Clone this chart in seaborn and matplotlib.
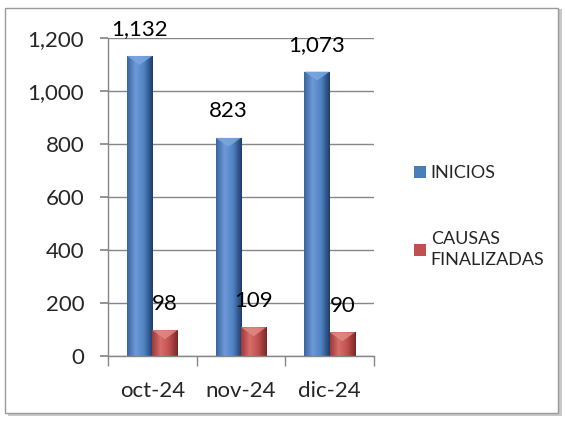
import numpy as np
import pandas as pd
import matplotlib
matplotlib.use("Agg")
import matplotlib.pyplot as plt
import seaborn as sns
from matplotlib.patches import Rectangle, Polygon
from matplotlib.colors import LinearSegmentedColormap

months = ["oct-24", "nov-24", "dic-24"]
inicios = [1132, 823, 1073]
finalizadas = [98, 109, 90]
series_names = ["INICIOS", "CAUSAS\nFINALIZADAS"]
yticks = [0, 200, 400, 600, 800, 1000, 1200]

df = pd.DataFrame({
    "mes": months * 2,
    "valor": inicios + finalizadas,
    "serie": [series_names[0]] * 3 + [series_names[1]] * 3,
})

sns.set_theme(style="white")
plt.rcParams["font.family"] = ["Lato", "DejaVu Sans"]

fig = plt.figure(figsize=(5.65, 4.21), dpi=100)
# outer frame with shadow
fig.patches.append(Rectangle((0.014, 0.012), 0.98, 0.966, transform=fig.transFigure,
                             facecolor="#c8c8c8", edgecolor="none", zorder=-3))
fig.patches.append(Rectangle((0.009, 0.02), 0.978, 0.96, transform=fig.transFigure,
                             facecolor="white", edgecolor="#9a9a9a", linewidth=1.0, zorder=-2))

ax = fig.add_axes([0.191, 0.154, 0.471, 0.756])
blue = "#4a7ebb"
red = "#c0504d"
sns.barplot(data=df, x="mes", y="valor", hue="serie", palette=[blue, red],
            width=0.57, gap=0, ax=ax, legend=True, saturation=1, edgecolor="none")

ax.set_ylim(0, 1200)
ax.set_xlim(-0.5, 2.5)
ax.set_yticks(yticks)
ax.set_yticklabels([f"{v:,}" for v in yticks], fontsize=16)
ax.yaxis.grid(True, color="#868686", linewidth=1.0)
ax.set_axisbelow(True)
ax.set_xlabel("")
ax.set_ylabel("")
ax.set_xticks([0, 1, 2])
ax.set_xticklabels(months, fontsize=16)
ax.tick_params(axis="x", length=0, pad=18)
ax.set_xticks([-0.5, 0.5, 1.5, 2.5], minor=True)
ax.tick_params(axis="x", which="minor", length=7, color="#868686", direction="out", bottom=True)
ax.tick_params(axis="y", length=6, color="#868686", direction="out", left=True, pad=11)
for s in ["top", "right"]:
    ax.spines[s].set_visible(False)
for s in ["left", "bottom"]:
    ax.spines[s].set_color("#868686")
    ax.spines[s].set_linewidth(1.0)

# gradient shading on bars
cmaps = {
    blue: LinearSegmentedColormap.from_list("b", ["#3a64a0", "#6d9ad6", "#4f82c2", "#1f3c6a"]),
    red: LinearSegmentedColormap.from_list("r", ["#9e3a38", "#d66e6b", "#c0504d", "#7a2927"]),
}
tops = {blue: "#7aa6e0", red: "#e08a87"}
grad = np.linspace(0, 1, 64).reshape(1, -1)
bars = [p for p in ax.patches if p.get_height() > 0]
px_per_unit = (fig.get_figheight() * fig.dpi * 0.756) / 1200.0
for p in bars:
    fc = matplotlib.colors.to_hex(p.get_facecolor())
    key = blue if fc == blue else red
    x0, y0, w, h = p.get_x(), p.get_y(), p.get_width(), p.get_height()
    im = ax.imshow(grad, cmap=cmaps[key], aspect="auto", extent=[x0, x0 + w, y0, y0 + h],
                   zorder=p.get_zorder() + 0.1)
    im.set_clip_path(p)
    # bevel triangle at the top
    dh = 9 / px_per_unit
    tri = Polygon([[x0, y0 + h], [x0 + w, y0 + h], [x0 + w / 2, y0 + h - dh]], closed=True,
                  facecolor=tops[key], edgecolor="none", alpha=0.85, zorder=p.get_zorder() + 0.2)
    ax.add_patch(tri)
ax.set_xlim(-0.5, 2.5)
ax.set_ylim(0, 1200)

# data labels
for cont in ax.containers:
    for p in cont:
        v = p.get_height()
        ax.annotate(f"{int(v):,}", (p.get_x() + p.get_width() / 2, v),
                    xytext=(0, 19), textcoords="offset points", ha="center", va="center",
                    fontsize=16, color="black", annotation_clip=False)

leg = ax.legend(loc="upper left", bbox_to_anchor=(0.732, 0.607), bbox_transform=fig.transFigure,
                frameon=False, fontsize=13, borderpad=0, borderaxespad=0,
                handlelength=0.7, handleheight=0.6, handletextpad=0.25, labelspacing=2.75)
for t in leg.get_texts():
    t.set_linespacing(1.4)

fig.savefig("out.png", dpi=100)
